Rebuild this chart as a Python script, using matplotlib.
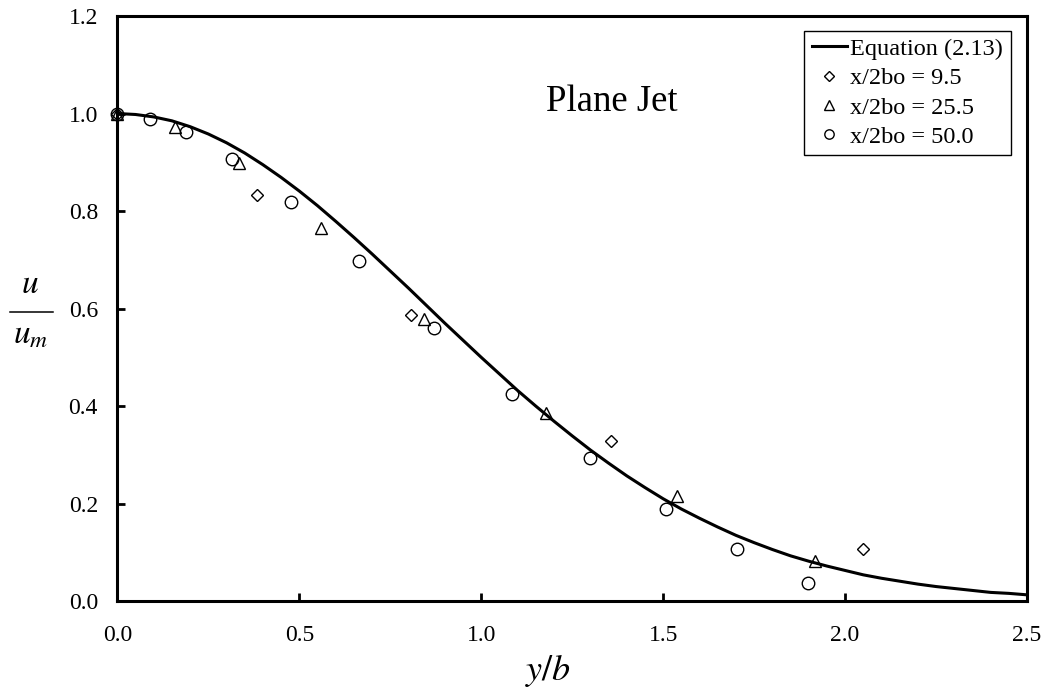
import matplotlib
matplotlib.use("Agg")
import matplotlib.pyplot as plt
from matplotlib.lines import Line2D

plt.rcParams['font.family'] = ['Liberation Serif', 'DejaVu Serif']
plt.rcParams['mathtext.fontset'] = 'stix'

# Equation (2.13) curve
curve_x = [0.00, 0.05, 0.10, 0.15, 0.20, 0.25, 0.30, 0.35, 0.40, 0.45,
           0.50, 0.55, 0.60, 0.65, 0.70, 0.75, 0.80, 0.85, 0.90, 0.95,
           1.00, 1.05, 1.10, 1.15, 1.20, 1.25, 1.30, 1.35, 1.40, 1.45,
           1.50, 1.55, 1.60, 1.65, 1.70, 1.75, 1.80, 1.85, 1.90, 1.95,
           2.00, 2.05, 2.10, 2.15, 2.20, 2.25, 2.30, 2.35, 2.40, 2.45, 2.50]
curve_y = [1.000, 0.998, 0.993, 0.985, 0.973, 0.958, 0.940, 0.919, 0.895, 0.869,
           0.841, 0.811, 0.779, 0.746, 0.712, 0.677, 0.642, 0.606, 0.570, 0.535,
           0.500, 0.466, 0.432, 0.400, 0.369, 0.339, 0.310, 0.283, 0.257, 0.233,
           0.210, 0.189, 0.170, 0.152, 0.135, 0.120, 0.106, 0.093, 0.082, 0.072,
           0.063, 0.054, 0.047, 0.041, 0.035, 0.030, 0.026, 0.022, 0.018, 0.016, 0.013]

# measured data
x95 = [0.0, 0.385, 0.807, 1.356, 2.049]
y95 = [1.0, 0.832, 0.587, 0.328, 0.108]

x255 = [0.0, 0.157, 0.333, 0.56, 0.844, 1.178, 1.539, 1.918]
y255 = [1.0, 0.972, 0.898, 0.766, 0.579, 0.386, 0.215, 0.083]

x500 = [0.0, 0.091, 0.189, 0.315, 0.477, 0.665, 0.869, 1.084, 1.299, 1.508, 1.702, 1.897]
y500 = [1.0, 0.989, 0.962, 0.907, 0.818, 0.697, 0.561, 0.424, 0.294, 0.188, 0.106, 0.038]

fig = plt.figure(figsize=(10.48, 6.95), dpi=100)
ax = fig.add_axes([0.112, 0.135, 0.868, 0.842])

ax.plot(curve_x, curve_y, color='black', lw=2.2, label='Equation (2.13)', zorder=3)
ax.plot(x95, y95, ls='none', marker='D', ms=6.5, mfc='none', mec='black', mew=1.0,
        label='x/2bo = 9.5', zorder=4, clip_on=False)
ax.plot(x255, y255, ls='none', marker='^', ms=9, mfc='none', mec='black', mew=1.0,
        label='x/2bo = 25.5', zorder=4, clip_on=False)
ax.plot(x500, y500, ls='none', marker='o', ms=9, mfc='none', mec='black', mew=1.0,
        label='x/2bo = 50.0', zorder=4, clip_on=False)

ax.set_xlim(0, 2.5)
ax.set_ylim(0, 1.2)
ax.set_xticks([0.0, 0.5, 1.0, 1.5, 2.0, 2.5])
ax.set_yticks([0.0, 0.2, 0.4, 0.6, 0.8, 1.0, 1.2])
ax.set_xticklabels(['0.0', '0.5', '1.0', '1.5', '2.0', '2.5'])
ax.set_yticklabels(['0.0', '0.2', '0.4', '0.6', '0.8', '1.0', '1.2'])
ax.tick_params(direction='in', length=6, width=2, labelsize=17)
ax.tick_params(axis='x', pad=17)
ax.tick_params(axis='y', pad=14)
for s in ax.spines.values():
    s.set_linewidth(2.2)

ax.text(0.543, 0.838, 'Plane Jet', transform=ax.transAxes, ha='center', va='baseline',
        fontsize=26.5)

# axis titles
fig.text(0.523, 0.035, r'$y/b$', ha='center', va='center', fontsize=26)
fig.text(0.029, 0.59, r'$u$', ha='center', va='center', fontsize=24)
fig.text(0.029, 0.518, r'$u_m$', ha='center', va='center', fontsize=24)
fig.add_artist(Line2D([10 / 1048, 53 / 1048], [0.551, 0.551], color='black', lw=1.1,
                      transform=fig.transFigure))

leg = ax.legend(loc='upper right', bbox_to_anchor=(0.982, 0.975), fontsize=17.5,
                frameon=True, fancybox=False, edgecolor='black', framealpha=1,
                handlelength=1.45, handletextpad=0.15, borderpad=0.3,
                labelspacing=0.3, borderaxespad=0, markerscale=0.75)
leg.get_frame().set_linewidth(1.0)

fig.savefig('out.png', dpi=100)
